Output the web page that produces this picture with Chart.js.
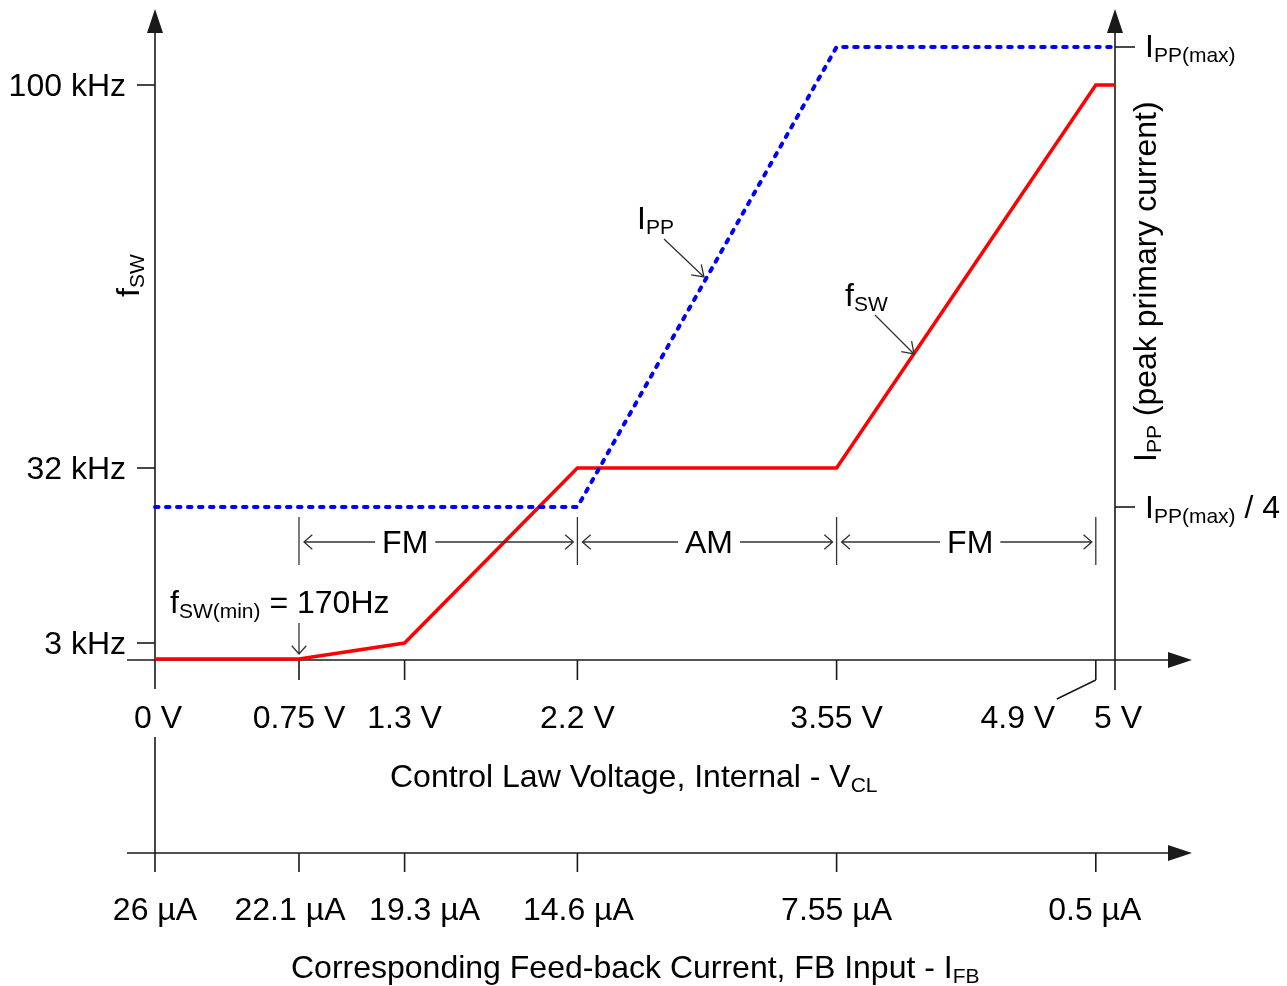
<!DOCTYPE html>
<html>
<head>
<meta charset="utf-8">
<script src="https://cdn.jsdelivr.net/npm/chart.js@4"></script>
<style>
  html, body { margin: 0; padding: 0; background: #fff; }
  canvas { display: block; }
</style>
</head>
<body>
<canvas id="chart" width="1287" height="986"></canvas>
<script>
// control law voltage ticks (V)
const voltTicks = [0, 0.75, 1.3, 2.2, 3.55, 4.9, 5];
const voltLabels = ['0 V', '0.75 V', '1.3 V', '2.2 V', '3.55 V', '4.9 V', '5 V'];

// corresponding feed-back current ticks
const fbTicks = [0, 0.75, 1.3, 2.2, 3.55, 4.9];
const fbLabels = ['26 µA', '22.1 µA', '19.3 µA', '14.6 µA', '7.55 µA', '0.5 µA'];

// vertical levels of the diagram (arbitrary units, 0 = voltage axis)
const fswTickLevels = [575, 192, 17];
const fswTickLabels = ['100 kHz', '32 kHz', '3 kHz'];
const ippTickLevels = [613, 153];

// fSW curve
const fswVolts = [0, 0.75, 1.3, 2.2, 3.55, 4.9, 5];
const fswLevels = [1, 1, 17, 192, 192, 575, 575];

// IPP curve
const ippVolts = [0, 2.2, 3.55, 5];
const ippLevels = [153, 153, 613, 613];

// operating modes
const modeEdges = [0.75, 2.2, 3.55, 4.9];
const modeLabels = ['FM', 'AM', 'FM'];

const FONT = '"Liberation Sans", Arial, sans-serif';
const INK = '#1a1a1a';
const GREY = '#333';

// text with subscripts: parts = [[text, isSub], ...]
function richText(ctx, parts, x, y, align) {
    let w = 0;
    parts.forEach(p => {
        ctx.font = (p[1] ? '21px ' : '32px ') + FONT;
        w += ctx.measureText(p[0]).width;
    });
    let cx = align === 'center' ? x - w / 2 : (align === 'right' ? x - w : x);
    ctx.textAlign = 'left';
    ctx.textBaseline = 'alphabetic';
    parts.forEach(p => {
        ctx.font = (p[1] ? '21px ' : '32px ') + FONT;
        ctx.fillText(p[0], cx, y + (p[1] ? 5 : 0));
        cx += ctx.measureText(p[0]).width;
    });
    return w;
}

function solidArrow(ctx, x, y, dir) {
    ctx.beginPath();
    if (dir === 'up') {
        ctx.moveTo(x, y); ctx.lineTo(x - 8, y + 24); ctx.lineTo(x + 8, y + 24);
    } else {
        ctx.moveTo(x, y); ctx.lineTo(x - 24, y - 8); ctx.lineTo(x - 24, y + 8);
    }
    ctx.closePath();
    ctx.fill();
}

// line with an open chevron at (x1, y1)
function openArrow(ctx, x0, y0, x1, y1, head, spread) {
    const a = Math.atan2(y1 - y0, x1 - x0);
    ctx.beginPath();
    ctx.moveTo(x0, y0);
    ctx.lineTo(x1, y1);
    ctx.moveTo(x1 - head * Math.cos(a - spread), y1 - head * Math.sin(a - spread));
    ctx.lineTo(x1, y1);
    ctx.lineTo(x1 - head * Math.cos(a + spread), y1 - head * Math.sin(a + spread));
    ctx.stroke();
}

function line(ctx, x0, y0, x1, y1) {
    ctx.beginPath();
    ctx.moveTo(x0, y0);
    ctx.lineTo(x1, y1);
    ctx.stroke();
}

// axes, ticks
const axesPlugin = {
    id: 'axes',
    beforeDatasetsDraw(chart) {
        const ctx = chart.ctx;
        const xs = chart.scales.x, ys = chart.scales.y;
        const x0 = xs.getPixelForValue(0), x5 = xs.getPixelForValue(5);
        const yA = ys.getPixelForValue(0);
        const yB = yA + 193; // feed-back current axis
        ctx.save();
        ctx.strokeStyle = INK;
        ctx.fillStyle = INK;
        ctx.lineWidth = 1.6;

        // left and right vertical axes
        line(ctx, x0, 33, x0, yA + 29);
        solidArrow(ctx, x0, 9, 'up');
        line(ctx, x5, 33, x5, yA + 30);
        solidArrow(ctx, x5, 9, 'up');
        line(ctx, x0, yA + 77, x0, yB + 19);

        // voltage axis
        line(ctx, 127, yA, 1172, yA);
        solidArrow(ctx, 1192, yA, 'right');
        voltTicks.forEach(v => {
            if (v === 0 || v === 5) return;
            const px = xs.getPixelForValue(v);
            line(ctx, px, yA, px, yA + 20);
        });
        // leader for the 4.9 V label
        const p49 = xs.getPixelForValue(4.9);
        line(ctx, p49, yA + 20, p49 - 39, yA + 39);

        // current axis
        line(ctx, 127, yB, 1172, yB);
        solidArrow(ctx, 1192, yB, 'right');
        fbTicks.forEach(v => {
            if (v === 0) return;
            const px = xs.getPixelForValue(v);
            line(ctx, px, yB, px, yB + 19);
        });

        // frequency ticks (left) and IPP ticks (right)
        fswTickLevels.forEach(l => {
            const py = ys.getPixelForValue(l);
            line(ctx, x0 - 18, py, x0, py);
        });
        ippTickLevels.forEach(l => {
            const py = ys.getPixelForValue(l);
            line(ctx, x5, py, x5 + 20, py);
        });
        ctx.restore();
    },
    afterDatasetsDraw(chart) {
        const ctx = chart.ctx;
        const xs = chart.scales.x, ys = chart.scales.y;
        const x0 = xs.getPixelForValue(0), x5 = xs.getPixelForValue(5);
        const yA = ys.getPixelForValue(0);
        const yB = yA + 193;
        ctx.save();
        ctx.fillStyle = '#000';

        // left tick labels
        fswTickLevels.forEach((l, i) => {
            richText(ctx, [[fswTickLabels[i]]], x0 - 29, ys.getPixelForValue(l) + 11, 'right');
        });
        // right tick labels
        richText(ctx, [['I'], ['PP(max)', true]], x5 + 30, ys.getPixelForValue(ippTickLevels[0]) + 10, 'left');
        richText(ctx, [['I'], ['PP(max)', true], [' / 4']], x5 + 30, ys.getPixelForValue(ippTickLevels[1]) + 11, 'left');

        // voltage labels
        const voltShift = [3, 0, 0, 0, 0, -78, 3];
        voltTicks.forEach((v, i) => {
            richText(ctx, [[voltLabels[i]]], xs.getPixelForValue(v) + voltShift[i], yA + 68, 'center');
        });
        richText(ctx, [['Control Law Voltage, Internal - V'], ['CL', true]], 390, yA + 127, 'left');

        // current labels
        const fbShift = [0, -9, 20, 1, 0, -1];
        fbTicks.forEach((v, i) => {
            richText(ctx, [[fbLabels[i]]], xs.getPixelForValue(v) + fbShift[i], yB + 67, 'center');
        });
        richText(ctx, [['Corresponding Feed-back Current, FB Input - I'], ['FB', true]], 291, yB + 125, 'left');

        // rotated axis titles
        ctx.save();
        ctx.translate(139, 297);
        ctx.rotate(-Math.PI / 2);
        richText(ctx, [['f'], ['SW', true]], 0, 0, 'left');
        ctx.restore();
        ctx.save();
        ctx.translate(1156, 462);
        ctx.rotate(-Math.PI / 2);
        richText(ctx, [['I'], ['PP', true], [' (peak primary current)']], 0, 0, 'left');
        ctx.restore();

        // FM / AM ranges
        ctx.strokeStyle = GREY;
        ctx.lineWidth = 1.3;
        const modeShift = [-33, 2, 4];
        const yM = 542;
        modeEdges.forEach(v => {
            const px = xs.getPixelForValue(v);
            line(ctx, px, yM - 25, px, yM + 23);
        });
        for (let i = 0; i < modeLabels.length; i++) {
            const a = xs.getPixelForValue(modeEdges[i]);
            const b = xs.getPixelForValue(modeEdges[i + 1]);
            const tc = (a + b) / 2 + modeShift[i];
            const w = richText(ctx, [[modeLabels[i]]], tc, yM + 11, 'center');
            openArrow(ctx, tc - w / 2 - 7, yM, a + 5, yM, 11, 0.72);
            openArrow(ctx, tc + w / 2 + 7, yM, b - 4, yM, 11, 0.72);
        }

        // fSW(min) note
        richText(ctx, [['f'], ['SW(min)', true], [' = 170Hz']], 170, 613, 'left');
        const p075 = xs.getPixelForValue(0.75);
        openArrow(ctx, p075, 623, p075, 654, 11, 0.72);

        // curve labels
        richText(ctx, [['I'], ['PP', true]], 637, 229, 'left');
        openArrow(ctx, 664, 239, 704, 277, 13, 0.6);
        richText(ctx, [['f'], ['SW', true]], 845, 306, 'left');
        openArrow(ctx, 875, 315, 914, 354, 13, 0.6);

        ctx.restore();
    }
};

new Chart(document.getElementById('chart'), {
    type: 'line',
    data: {
        datasets: [{
            label: 'IPP',
            data: ippVolts.map((v, i) => ({ x: v, y: ippLevels[i] })),
            borderColor: '#0000ff',
            borderWidth: 4,
            borderDash: [3.5, 7.5],
            borderCapStyle: 'round',
            pointRadius: 0,
            tension: 0,
            clip: false
        }, {
            label: 'fSW',
            data: fswVolts.map((v, i) => ({ x: v, y: fswLevels[i] })),
            borderColor: '#ff0000',
            borderWidth: 3.5,
            pointRadius: 0,
            tension: 0,
            clip: false
        }]
    },
    options: {
        responsive: false,
        animation: false,
        events: [],
        layout: { padding: { left: 155, right: 172, top: 10, bottom: 326 } },
        plugins: { legend: { display: false }, tooltip: { enabled: false } },
        scales: {
            x: { type: 'linear', min: 0, max: 5, display: false },
            y: { type: 'linear', min: 0, max: 650, display: false }
        }
    },
    plugins: [axesPlugin]
});
</script>
</body>
</html>
